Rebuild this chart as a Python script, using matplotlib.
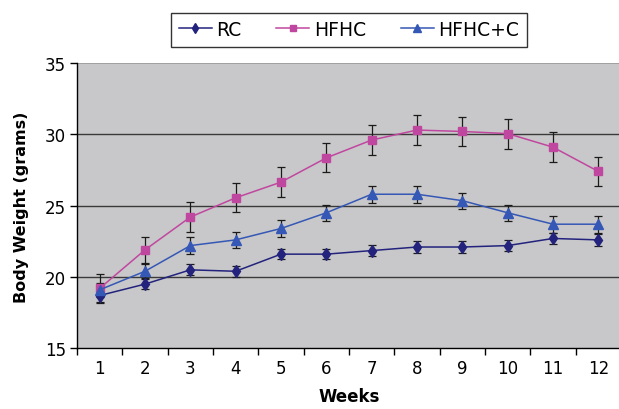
import matplotlib
matplotlib.use("Agg")
import matplotlib.pyplot as plt
import numpy as np

weeks = [1, 2, 3, 4, 5, 6, 7, 8, 9, 10, 11, 12]
week_labels = [str(w) for w in weeks]

rc = [18.7, 19.5, 20.5, 20.4, 21.6, 21.6, 21.85, 22.1, 22.1, 22.2, 22.7, 22.6]
rc_err = [0.45, 0.37, 0.38, 0.37, 0.37, 0.37, 0.37, 0.4, 0.4, 0.4, 0.38, 0.4]

hfhc = [19.2, 21.9, 24.2, 25.55, 26.65, 28.35, 29.6, 30.3, 30.2, 30.05, 29.1, 27.4]
hfhc_err = [1.0, 0.92, 1.03, 1.02, 1.03, 1.02, 1.05, 1.02, 1.02, 1.05, 1.05, 1.03]

hfhcc = [19.1, 20.4, 22.2, 22.6, 23.4, 24.5, 25.8, 25.8, 25.35, 24.5, 23.7, 23.7]
hfhcc_err = [0.5, 0.5, 0.58, 0.55, 0.6, 0.58, 0.6, 0.6, 0.55, 0.55, 0.6, 0.6]

series_names = ["RC", "HFHC", "HFHC+C"]

fig = plt.figure(figsize=(6.19, 4.10), dpi=100)
W, H = 619, 410
left_px, right_px, top_px, bottom_px = 77, 621, 64, 349.3
ax = fig.add_axes([left_px / W, 1 - bottom_px / H, (right_px - left_px) / W, (bottom_px - top_px) / H])
ax.set_facecolor("#C8C8CA")

x = np.arange(1, len(weeks) + 1)
styles = [
    (rc, rc_err, "#23237D", "d", 6.5),
    (hfhc, hfhc_err, "#C0479F", "s", 6.3),
    (hfhcc, hfhcc_err, "#3557B5", "^", 7.2),
]
for (vals, errs, col, mk, ms), name in zip(styles, series_names):
    ax.errorbar(x, vals, yerr=errs, fmt="none", ecolor="#1a1a1a", elinewidth=0.9,
                capsize=2.8, capthick=0.9, zorder=3)
    ax.plot(x, vals, color=col, lw=1.1, marker=mk, ms=ms, mfc=col, mec=col,
            label=name, zorder=4)

ax.set_xlim(0.5, 12.5)
ax.set_ylim(15, 35)
for yv in [20, 25, 30]:
    ax.axhline(yv, color="#3a3a3a", lw=1.0, zorder=1)
ax.axhline(35, color="#9a9a9a", lw=1.2, zorder=1)

ax.set_yticks([15, 20, 25, 30, 35])
ax.set_xticks(x)
ax.set_xticklabels(week_labels)
ax.set_xticks(np.arange(0.5, 12.6, 1), minor=True)
ax.tick_params(axis="x", which="major", length=0, pad=8, labelsize=12)
ax.tick_params(axis="x", which="minor", length=5, width=1, direction="out")
ax.tick_params(axis="y", length=5, width=1, direction="out", labelsize=12, pad=3)

for s in ["top", "right"]:
    ax.spines[s].set_visible(False)
for s in ["left", "bottom"]:
    ax.spines[s].set_color("black")
    ax.spines[s].set_linewidth(1.0)

ax.set_xlabel("Weeks", fontsize=12, fontweight="bold", labelpad=7)
fig.text(22 / W, 1 - 207 / H, "Body Weight (grams)", rotation=90, fontsize=11.5,
         fontweight="bold", ha="center", va="center")

leg = fig.legend(loc="center", bbox_to_anchor=(349 / W, 1 - 30.5 / H), ncol=3,
                 fontsize=13.5, frameon=True, fancybox=False, edgecolor="black",
                 handlelength=1.75, handletextpad=0.25, columnspacing=1.85,
                 borderpad=0.4, markerscale=0.75)
leg.get_frame().set_linewidth(1.0)

fig.savefig("out.png", dpi=100)
